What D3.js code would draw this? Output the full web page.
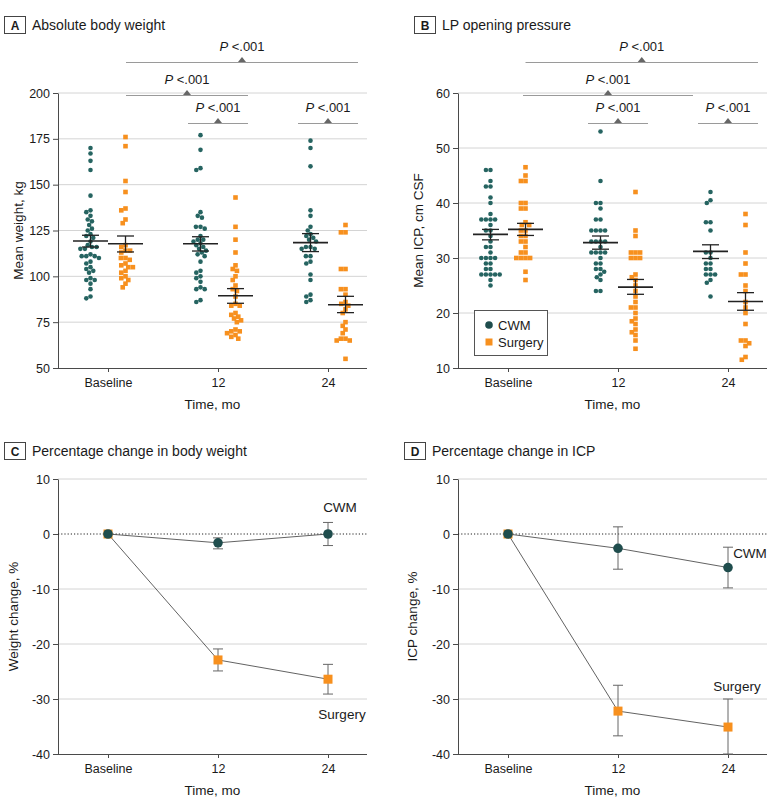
<!DOCTYPE html>
<html>
<head>
<meta charset="utf-8">
<script src="https://cdn.jsdelivr.net/npm/d3@7"></script>
<style>
  body { margin: 0; background: #fff; }
  svg text { font-family: "Liberation Sans", Arial, sans-serif; fill: #1a1a1a; }
</style>
</head>
<body>
<svg id="chart" width="780" height="809"></svg>
<script>
const timepoints = ["Baseline", "12", "24"];

// A: absolute body weight (kg), one array per time point
const weightCWM = [
  [170, 167, 163, 158, 144, 136, 135, 133, 131, 130, 128, 126, 125, 123, 122, 121, 119, 117, 116, 116,
   115, 115, 112, 111, 111, 111, 110, 108, 107, 105, 104, 103, 102, 99, 98, 98, 96, 93, 89, 88],
  [177, 169, 159, 158, 135, 133, 132, 127, 127, 126, 122, 120, 120, 119, 118, 117, 116, 115, 114, 113,
   112, 111, 108, 103, 102, 100, 99, 97, 94, 93, 93, 87, 86],
  [174, 170, 160, 136, 133, 127, 125, 123, 122, 121, 120, 119, 116, 116, 115, 115, 111, 111, 108, 107,
   101, 98, 90, 89, 87, 86]
];
const weightSurgery = [
  [176, 171, 152, 146, 137, 136, 131, 129, 117, 116, 114, 114, 113, 110, 110, 109, 107, 106, 105, 105,
   103, 102, 100, 99, 98, 96, 94],
  [143, 127, 120, 113, 106, 104, 103, 100, 98, 95, 93, 92, 89, 85, 84, 84, 80, 79, 78, 77,
   76, 75, 71, 70, 70, 69, 68, 67, 66],
  [128, 124, 124, 104, 104, 93, 93, 90, 86, 85, 84, 82, 80, 75, 73, 71, 69, 66, 66, 65, 65, 55]
];
const weightMeanCWM = [119.3, 117.8, 118.4];
const weightLowCWM = [116.0, 113.8, 113.5];
const weightHighCWM = [122.4, 121.6, 123.3];
const weightMeanSurgery = [117.8, 89.4, 84.5];
const weightLowSurgery = [113.3, 85.3, 80.2];
const weightHighSurgery = [122.0, 93.3, 89.1];

// B: LP opening pressure (cm CSF)
const icpCWM = [
  [46, 46, 44, 43, 43, 41, 40, 38, 37, 37, 37, 37, 36, 35, 35, 34, 33, 32, 32, 31,
   30, 30, 30, 30, 29, 29, 28, 28, 27, 27, 27, 27, 27, 26, 25],
  [53, 44, 40, 40, 39, 37, 37, 35, 35, 35, 35, 33, 33, 33, 33, 32, 31, 31, 31, 31,
   30, 29, 29, 28, 28, 27.5, 27, 26.5, 26, 24, 24],
  [42, 40.5, 40, 36.5, 36.5, 35, 31, 31, 30, 29, 29, 28, 28, 27, 27, 27, 26, 25.5, 23]
];
const icpSurgery = [
  [46.5, 45, 44, 44, 40, 40, 39, 39, 36.5, 36, 36, 35, 35, 34, 34, 33, 33, 32, 31, 31,
   30, 30, 30, 30, 27.5, 26],
  [42, 35, 34, 31, 31, 31, 30, 30, 30, 27, 26.5, 26, 25, 24, 23, 22, 21, 21, 20, 19,
   18.5, 18, 17, 16.5, 16, 15, 13.5],
  [38, 36, 31, 29, 27, 27, 25, 24, 22, 21, 20, 18, 15, 15, 14.5, 14, 12, 11.5]
];
const icpMeanCWM = [34.3, 32.8, 31.2];
const icpLowCWM = [33.3, 31.6, 29.9];
const icpHighCWM = [35.2, 34.0, 32.4];
const icpMeanSurgery = [35.2, 24.7, 22.1];
const icpLowSurgery = [34.1, 23.4, 20.5];
const icpHighSurgery = [36.3, 26.1, 23.7];

// C: percentage change in body weight
const weightChangeCWM = [0, -1.6, 0];
const weightChangeLowCWM = [0, -2.7, -2.1];
const weightChangeHighCWM = [0, -0.7, 2.1];
const weightChangeSurgery = [0, -22.9, -26.4];
const weightChangeLowSurgery = [0, -24.9, -29.1];
const weightChangeHighSurgery = [0, -20.9, -23.7];

// D: percentage change in ICP
const icpChangeCWM = [0, -2.6, -6.1];
const icpChangeLowCWM = [0, -6.4, -9.8];
const icpChangeHighCWM = [0, 1.3, -2.4];
const icpChangeSurgery = [0, -32.2, -35.1];
const icpChangeLowSurgery = [0, -36.7, -40.0];
const icpChangeHighSurgery = [0, -27.5, -30.0];

const weightTicks = [50, 75, 100, 125, 150, 175, 200];
const icpTicks = [10, 20, 30, 40, 50, 60];
const changeTicks = [-40, -30, -20, -10, 0, 10];
const pLabel = ".001";

const CWM_DOT = "#266461";
const CWM_DARK = "#1f4d4d";
const SURG = "#f7901e";
const GRID = "#d4d4d4";
const AXIS = "#4a4a4a";

const svg = d3.select("#chart");

function panelTitle(letter, bx, by, title) {
  svg.append("rect")
    .attr("x", bx + 0.5).attr("y", by + 0.5)
    .attr("width", 21).attr("height", 17)
    .attr("fill", "none").attr("stroke", "#444").attr("stroke-width", 1);
  svg.append("text")
    .attr("x", bx + 11).attr("y", by + 13.5)
    .attr("text-anchor", "middle").attr("font-size", 12).attr("font-weight", "bold")
    .text(letter);
  svg.append("text")
    .attr("x", bx + 28).attr("y", by + 13.5)
    .attr("font-size", 14)
    .text(title);
}

function drawFrame(p, x, y, ticks, gridTicks, yLabel, yLabelX) {
  const g = svg.append("g");

  g.selectAll("line.grid")
    .data(gridTicks)
    .enter()
    .append("line")
    .attr("x1", p.left).attr("x2", p.right)
    .attr("y1", (d) => y(d)).attr("y2", (d) => y(d))
    .attr("stroke", GRID).attr("stroke-width", 1);

  const yAxis = g.append("g")
    .attr("transform", `translate(${p.left},0)`)
    .call(d3.axisLeft(y).tickValues(ticks).tickSize(5).tickSizeOuter(0).tickPadding(3)
      .tickFormat((d) => String(d)));
  yAxis.selectAll("text").attr("font-size", 12.5).attr("font-family", null);
  yAxis.selectAll("line, path").attr("stroke", AXIS);

  const xAxis = g.append("g")
    .attr("transform", `translate(0,${p.bottom})`)
    .call(d3.axisBottom(x).tickSize(4).tickSizeOuter(0).tickPadding(6));
  xAxis.select(".domain").remove();
  xAxis.selectAll("text").attr("font-size", 12.5).attr("font-family", null);
  xAxis.selectAll("line").attr("stroke", AXIS);
  g.append("line")
    .attr("x1", p.left).attr("x2", p.right)
    .attr("y1", p.bottom + 0.5).attr("y2", p.bottom + 0.5)
    .attr("stroke", AXIS);

  g.append("text")
    .attr("x", (p.left + p.right) / 2).attr("y", p.bottom + 41)
    .attr("text-anchor", "middle").attr("font-size", 13.5)
    .text("Time, mo");

  g.append("text")
    .attr("transform", `translate(${yLabelX},${(p.top + p.bottom) / 2}) rotate(-90)`)
    .attr("text-anchor", "middle").attr("dy", "0.35em").attr("font-size", 13.5)
    .text(yLabel);
}

// simple beeswarm: push points sideways until they don't overlap
function swarm(values, y, cx, d) {
  const placed = [];
  values.slice().sort((a, b) => b - a).forEach((v) => {
    const py = y(v);
    const blocked = [];
    placed.forEach((q) => {
      const dy = Math.abs(q.y - py);
      if (dy < d) {
        const w = Math.sqrt(d * d - dy * dy);
        blocked.push([q.dx - w, q.dx + w]);
      }
    });
    const cands = [0];
    blocked.forEach((b) => cands.push(b[0], b[1]));
    cands.sort((a, b) => Math.abs(a) - Math.abs(b));
    const dx = cands.find((c) => blocked.every((b) => c <= b[0] + 1e-6 || c >= b[1] - 1e-6));
    placed.push({ x: cx + dx, y: py, dx: dx });
  });
  return placed;
}

function drawMeanBar(g, cx, y, mean, low, high) {
  g.append("line")
    .attr("x1", cx).attr("x2", cx).attr("y1", y(low)).attr("y2", y(high))
    .attr("stroke", "#222").attr("stroke-width", 1.3);
  [low, high].forEach((v) => {
    g.append("line")
      .attr("x1", cx - 8.5).attr("x2", cx + 8.5).attr("y1", y(v)).attr("y2", y(v))
      .attr("stroke", "#222").attr("stroke-width", 1.3);
  });
  g.append("line")
    .attr("x1", cx - 17.5).attr("x2", cx + 17.5).attr("y1", y(mean)).attr("y2", y(mean))
    .attr("stroke", "#222").attr("stroke-width", 1.6);
}

function drawBrackets(x, brackets) {
  const levelY = [62, 95, 123];
  const g = svg.append("g");
  brackets.forEach((b) => {
    const x1 = x(b.from[0]) + b.from[1];
    const x2 = x(b.to[0]) + b.to[1];
    const mid = (x1 + x2) / 2;
    const ly = levelY[b.level];
    g.append("line")
      .attr("x1", x1).attr("x2", x2).attr("y1", ly + 0.5).attr("y2", ly + 0.5)
      .attr("stroke", "#9a9a9a").attr("stroke-width", 1);
    g.append("path")
      .attr("d", `M${mid - 4},${ly} L${mid + 4},${ly} L${mid},${ly - 5} Z`)
      .attr("fill", "#666");
    const t = g.append("text")
      .attr("x", mid).attr("y", ly - 11)
      .attr("text-anchor", "middle").attr("font-size", 13);
    t.append("tspan").attr("font-style", "italic").text("P");
    t.append("tspan").text(" <" + pLabel);
  });
}

function drawScatterPanel(p, domain, ticks, yLabel, yLabelX, cwm, surg, statsCWM, statsSurg, brackets) {
  const x = d3.scalePoint().domain(timepoints).range([p.left + 50, p.left + 270]);
  const y = d3.scaleLinear().domain(domain).range([p.bottom, p.top]);
  drawFrame(p, x, y, ticks, ticks.slice(1), yLabel, yLabelX);

  const g = svg.append("g");
  timepoints.forEach((t, i) => {
    const cwmPts = swarm(cwm[i], y, x(t) - 17.5, 4.6);
    g.selectAll(null)
      .data(cwmPts)
      .enter()
      .append("circle")
      .attr("cx", (d) => d.x).attr("cy", (d) => d.y).attr("r", 2.3)
      .attr("fill", CWM_DOT);
    const surgPts = swarm(surg[i], y, x(t) + 17.5, 4.6);
    g.selectAll(null)
      .data(surgPts)
      .enter()
      .append("rect")
      .attr("x", (d) => d.x - 2.3).attr("y", (d) => d.y - 2.3)
      .attr("width", 4.6).attr("height", 4.6)
      .attr("fill", SURG);
  });
  timepoints.forEach((t, i) => {
    drawMeanBar(g, x(t) - 17.5, y, statsCWM[0][i], statsCWM[1][i], statsCWM[2][i]);
    drawMeanBar(g, x(t) + 17.5, y, statsSurg[0][i], statsSurg[1][i], statsSurg[2][i]);
  });
  drawBrackets(x, brackets);
}

function drawChangePanel(p, yLabel, yLabelX, cwm, surg, labels) {
  const x = d3.scalePoint().domain(timepoints).range([p.left + 50, p.left + 270]);
  const y = d3.scaleLinear().domain([-40, 10]).range([p.bottom, p.top]);
  drawFrame(p, x, y, changeTicks, [10, -10, -20, -30], yLabel, yLabelX);

  const g = svg.append("g");
  g.append("line")
    .attr("x1", p.left).attr("x2", p.right).attr("y1", y(0)).attr("y2", y(0))
    .attr("stroke", "#222").attr("stroke-width", 1).attr("stroke-dasharray", "1.2,2");

  const line = d3.line().x((d, i) => x(timepoints[i])).y((d) => y(d));
  [surg, cwm].forEach((s) => {
    g.append("path").attr("d", line(s[0]))
      .attr("fill", "none").attr("stroke", "#3a3a3a").attr("stroke-width", 0.8);
  });
  [surg, cwm].forEach((s) => {
    timepoints.forEach((t, i) => {
      if (s[1][i] === s[2][i]) return;
      const cx = x(t);
      g.append("line").attr("x1", cx).attr("x2", cx)
        .attr("y1", y(s[1][i])).attr("y2", y(s[2][i]))
        .attr("stroke", "#666").attr("stroke-width", 1);
      [s[1][i], s[2][i]].forEach((v) => {
        g.append("line").attr("x1", cx - 5).attr("x2", cx + 5)
          .attr("y1", y(v)).attr("y2", y(v))
          .attr("stroke", "#666").attr("stroke-width", 1);
      });
    });
  });
  g.selectAll(null)
    .data(surg[0])
    .enter()
    .append("rect")
    .attr("x", (d, i) => x(timepoints[i]) - 4.5).attr("y", (d) => y(d) - 4.5)
    .attr("width", 9).attr("height", 9)
    .attr("fill", SURG);
  g.selectAll(null)
    .data(cwm[0])
    .enter()
    .append("circle")
    .attr("cx", (d, i) => x(timepoints[i])).attr("cy", (d) => y(d)).attr("r", 4.8)
    .attr("fill", CWM_DARK);

  labels.forEach((l) => {
    g.append("text")
      .attr("x", x("24") + l.dx).attr("y", y(l.series[0][2]) + l.dy)
      .attr("text-anchor", "middle").attr("dy", "0.35em").attr("font-size", 13.5)
      .text(l.text);
  });
}

const panelA = { left: 58, right: 367, top: 93, bottom: 368 };
const panelB = { left: 458, right: 767, top: 93, bottom: 368 };
const panelC = { left: 58, right: 367, top: 479, bottom: 754 };
const panelD = { left: 458, right: 767, top: 479, bottom: 754 };

panelTitle("A", 4, 16, "Absolute body weight");
panelTitle("B", 414, 16, "LP opening pressure");
panelTitle("C", 4, 442, "Percentage change in body weight");
panelTitle("D", 404, 442, "Percentage change in ICP");

drawScatterPanel(panelA, [50, 200], weightTicks, "Mean weight, kg", 18,
  weightCWM, weightSurgery,
  [weightMeanCWM, weightLowCWM, weightHighCWM],
  [weightMeanSurgery, weightLowSurgery, weightHighSurgery],
  [
    { level: 0, from: ["Baseline", 18], to: ["24", 30] },
    { level: 1, from: ["Baseline", 18], to: ["12", 30] },
    { level: 2, from: ["12", -30], to: ["12", 30] },
    { level: 2, from: ["24", -30], to: ["24", 30] }
  ]);

drawScatterPanel(panelB, [10, 60], icpTicks, "Mean ICP, cm CSF", 418,
  icpCWM, icpSurgery,
  [icpMeanCWM, icpLowCWM, icpHighCWM],
  [icpMeanSurgery, icpLowSurgery, icpHighSurgery],
  [
    { level: 0, from: ["Baseline", 17.5], to: ["24", 30] },
    { level: 1, from: ["Baseline", 15], to: ["12", 75] },
    { level: 2, from: ["12", -30], to: ["12", 30] },
    { level: 2, from: ["24", -30], to: ["24", 30] }
  ]);

// legend
const legend = svg.append("g");
legend.append("rect")
  .attr("x", 474.5).attr("y", 310.5).attr("width", 73).attr("height", 45)
  .attr("fill", "#fff").attr("stroke", "#555");
legend.append("circle").attr("cx", 489).attr("cy", 325).attr("r", 3.8).attr("fill", CWM_DARK);
legend.append("rect").attr("x", 485.5).attr("y", 338.5).attr("width", 7).attr("height", 7).attr("fill", SURG);
legend.append("text").attr("x", 498).attr("y", 325).attr("dy", "0.35em").attr("font-size", 13).text("CWM");
legend.append("text").attr("x", 498).attr("y", 342).attr("dy", "0.35em").attr("font-size", 13).text("Surgery");

const changeCWM_C = [weightChangeCWM, weightChangeLowCWM, weightChangeHighCWM];
const changeSurg_C = [weightChangeSurgery, weightChangeLowSurgery, weightChangeHighSurgery];
drawChangePanel(panelC, "Weight change, %", 13, changeCWM_C, changeSurg_C, [
  { text: "CWM", series: changeCWM_C, dx: 12, dy: -27 },
  { text: "Surgery", series: changeSurg_C, dx: 14, dy: 35 }
]);

const changeCWM_D = [icpChangeCWM, icpChangeLowCWM, icpChangeHighCWM];
const changeSurg_D = [icpChangeSurgery, icpChangeLowSurgery, icpChangeHighSurgery];
drawChangePanel(panelD, "ICP change, %", 412, changeCWM_D, changeSurg_D, [
  { text: "CWM", series: changeCWM_D, dx: 22, dy: -14 },
  { text: "Surgery", series: changeSurg_D, dx: 9, dy: -41 }
]);
</script>
</body>
</html>
